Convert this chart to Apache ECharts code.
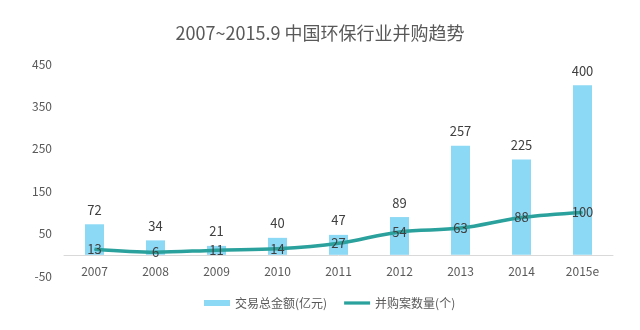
<!DOCTYPE html>
<html>
<head>
<meta charset="utf-8">
<script src="https://cdn.jsdelivr.net/npm/echarts@6/dist/echarts.min.js"></script>
<style>
  html, body { margin: 0; padding: 0; background: #ffffff; }
  #chart { width: 640px; height: 330px; }
</style>
</head>
<body>
<div id="chart"></div>
<script>
// Years on the category axis
const years = ['2007', '2008', '2009', '2010', '2011', '2012', '2013', '2014', '2015e'];
// Total deal value (100 million yuan)
const dealValue = [72, 34, 21, 40, 47, 89, 257, 225, 400];
// Number of M&A deals
const dealCount = [13, 6, 11, 14, 27, 54, 63, 88, 100];

const font = '"Noto Sans CJK SC", "Noto Sans", sans-serif';
const chart = echarts.init(document.getElementById('chart'), null, { renderer: 'canvas' });

chart.setOption({
  backgroundColor: '#ffffff',
  animation: false,
  textStyle: { fontFamily: font },
  title: {
    text: '2007~2015.9 中国环保行业并购趋势',
    left: 'center',
    top: 19,
    textStyle: { fontFamily: font, fontSize: 18, fontWeight: 'normal', color: '#595959' }
  },
  grid: { left: 64, right: 27, top: 64, bottom: 54, containLabel: false },
  legend: {
    top: 292,
    left: 199,
    itemGap: 17,
    itemWidth: 26,
    itemHeight: 6,
    textStyle: { fontFamily: font, fontSize: 12, color: '#595959' },
    data: [
      { name: '交易总金额(亿元)', icon: 'rect' },
      // plain stroke for the line series, no marker dot
      { name: '并购案数量(个)', icon: 'path://M0,0H28V3.5H0Z' }
    ]
  },
  xAxis: {
    type: 'category',
    data: years,
    // the baseline sits at value 0, above the bottom of the plot area
    offset: -21,
    axisLine: { onZero: false, lineStyle: { color: '#d9d9d9', width: 1 } },
    axisTick: { show: false },
    axisLabel: { color: '#595959', fontSize: 12, margin: 10, fontFamily: font }
  },
  yAxis: {
    type: 'value',
    min: -50,
    max: 450,
    interval: 50,
    splitLine: { show: false },
    axisLine: { show: false },
    axisTick: { show: false },
    axisLabel: {
      color: '#595959', fontSize: 12, margin: 12, fontFamily: font,
      formatter: v => ((v + 50) % 100 === 0 ? String(v) : '')
    }
  },
  series: [
    {
      name: '交易总金额(亿元)',
      type: 'bar',
      data: dealValue,
      barWidth: 19,
      itemStyle: { color: '#8cd9f5' },
      label: { show: true, position: 'top', distance: 8, color: '#404040', fontSize: 13, fontFamily: font }
    },
    {
      name: '并购案数量(个)',
      type: 'line',
      data: dealCount,
      smooth: 0.35,
      symbol: 'circle',
      symbolSize: 1,
      showSymbol: true,
      lineStyle: { color: '#2aa19c', width: 3.5 },
      itemStyle: { color: '#2aa19c' },
      label: { show: true, position: 'inside', color: '#404040', fontSize: 13, fontFamily: font },
      z: 3
    }
  ]
});
</script>
</body>
</html>
